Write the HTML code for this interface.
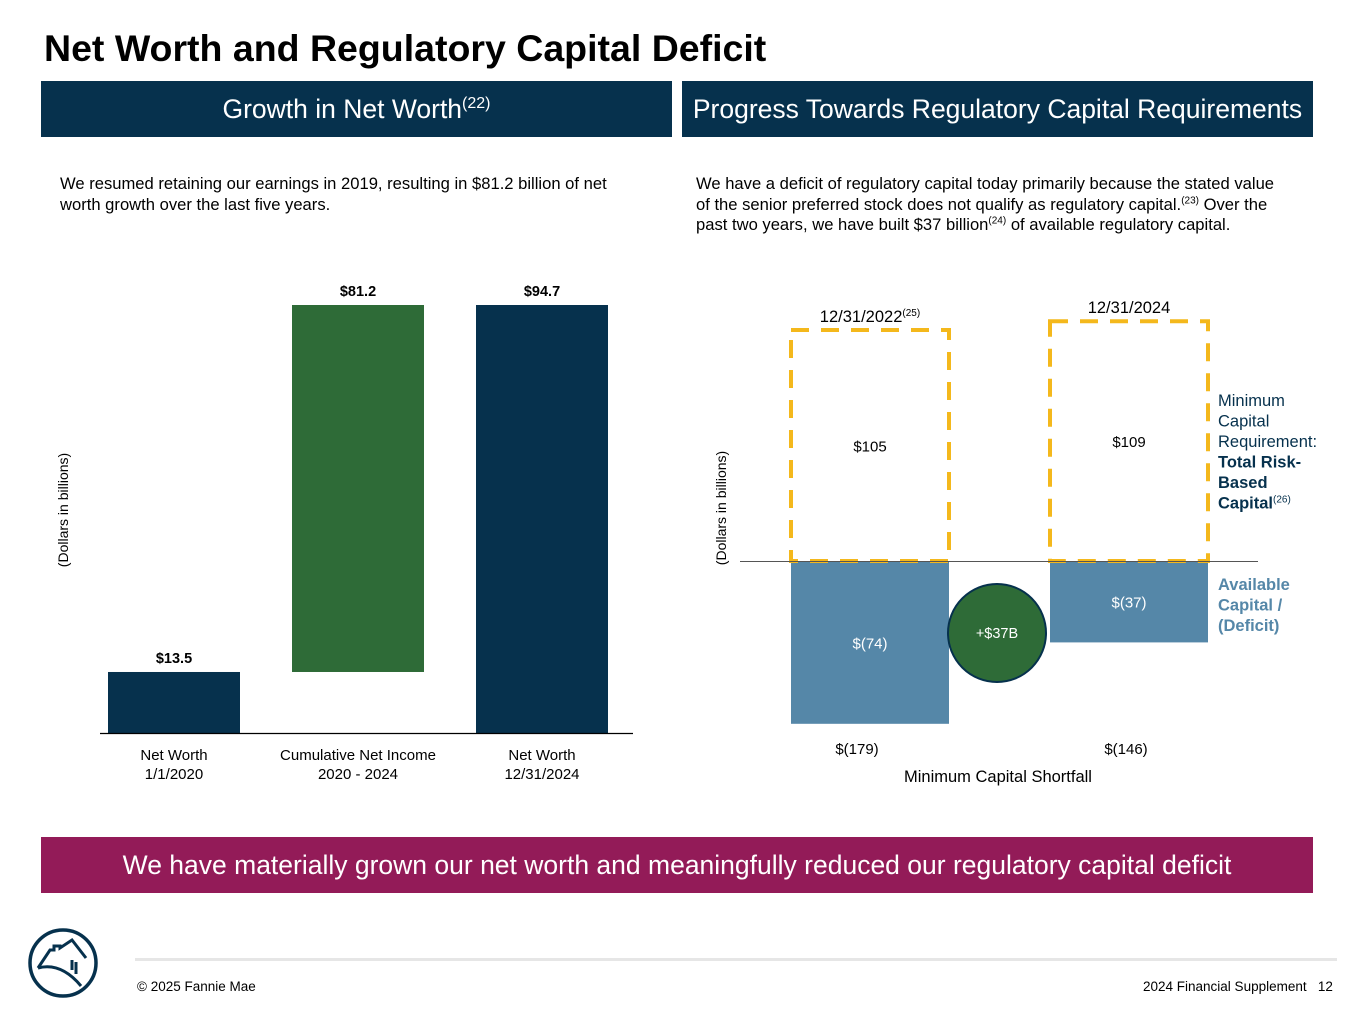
<!DOCTYPE html>
<html><head><meta charset="utf-8"><style>
body{margin:0;width:1365px;height:1024px;background:#fff;font-family:"Liberation Sans",Arial,sans-serif;position:relative;overflow:hidden}
.a{position:absolute}
sup{line-height:0;vertical-align:super}
h1{position:absolute;left:44px;top:27px;margin:0;font-size:37.5px;font-weight:bold;color:#000}
.hdr{position:absolute;top:81px;height:56px;background:#06314d;color:#fff;font-size:26.5px;line-height:56px;text-align:center}
.hdr sup{font-size:16px}
.p{font-size:16.6px;line-height:20.5px;color:#000}
.p sup{font-size:10px}
</style></head><body>
<h1>Net Worth and Regulatory Capital Deficit</h1>
<div class="hdr" style="left:41px;width:631px">Growth in Net Worth<sup>(22)</sup></div>
<div class="hdr" style="left:682px;width:631px">Progress Towards Regulatory Capital Requirements</div>
<div class="a p" style="left:60px;top:174px;width:580px">We resumed retaining our earnings in 2019, resulting in $81.2 billion of net worth growth over the last five years.</div>
<div class="a p" style="left:696px;top:174px;width:588px">We have a deficit of regulatory capital today primarily because the stated value of the senior preferred stock does not qualify as regulatory capital.<sup>(23)</sup> Over the past two years, we have built $37 billion<sup>(24)</sup> of available regulatory capital.</div>

<svg class="a" style="left:0;top:0" width="1365" height="1024">
<g id="left"></g>
<g id="right"></g>
</svg>

<div class="a" style="left:41px;top:837px;width:1272px;height:56px;background:#931b58;color:#fff;font-size:26.5px;line-height:56px;text-align:center">We have materially grown our net worth and meaningfully reduced our regulatory capital deficit</div>

<svg class="a" style="left:26px;top:926px" width="74" height="74">
<circle cx="37" cy="37" r="33" fill="none" stroke="#06314d" stroke-width="3.5"/>
<path d="M12 42 L24 24 L28 24 L28 20 L34 20 L34 22 L46 14 L60 32 M12 42 Q35 36 55 60 M46 34 L46 44 M50 36 L50 48" fill="none" stroke="#06314d" stroke-width="3"/>
</svg>
<div class="a" style="left:135px;top:958px;width:1202px;height:3px;background:#e6e6e6"></div>
<div class="a" style="left:137px;top:979px;font-size:13.5px">© 2025 Fannie Mae</div>
<div class="a" style="left:1143px;top:979px;font-size:13.5px">2024 Financial Supplement&nbsp;&nbsp; 12</div>

<script>
const NS='http://www.w3.org/2000/svg';
const lCategories=['Net Worth|1/1/2020','Cumulative Net Income|2020 - 2024','Net Worth|12/31/2024'];
const lStart=[0,13.5,0];
const lEnd=[13.5,94.7,94.7];
const lLabels=['$13.5','$81.2','$94.7'];
const lColors=['#06314d','#2e6b37','#06314d'];

const rDates=['12/31/2022','12/31/2024'];
const rRequirement=[105,109];
const rAvailable=[-74,-37];
const rShortfall=['$(179)','$(146)'];

function mk(p,tag,at,txt){const e=document.createElementNS(NS,tag);for(const k in at)e.setAttribute(k,at[k]);if(txt!=null)e.textContent=txt;p.appendChild(e);return e;}
const L=document.getElementById('left');
const ly=v=>733-v*(428/94.7);
lCategories.forEach((c,i)=>{
  const x=108+i*184;
  const r=mk(L,'rect',{x:x,y:ly(lEnd[i]),width:132,height:ly(lStart[i])-ly(lEnd[i]),fill:lColors[i]});
  
  
  const t=mk(L,'text',{x:x+66,y:ly(lEnd[i])-9,'text-anchor':'middle','font-size':14.5,'font-weight':'bold'},lLabels[i]);
  
  
  c.split('|').forEach((s,j)=>{const tt=mk(L,'text',{x:x+66,y:760+j*19,'text-anchor':'middle','font-size':15},s);
  
  });
});
mk(L,'line',{x1:100,x2:633,y1:733.5,y2:733.5,stroke:'#000','stroke-width':1.2});
mk(L,'text',{transform:'translate(68,510) rotate(-90)','text-anchor':'middle','font-size':14},'(Dollars in billions)');

const R=document.getElementById('right');
const ry=v=>561-v*2.2;
rDates.forEach((d,i)=>{
  const x=791+i*259,w=158;
  const b=mk(R,'rect',{x:x,y:ry(0),width:w,height:ry(rAvailable[i])-ry(0),fill:'#5587a8'});
  
  
  mk(R,'text',{x:x+w/2,y:(ry(0)+ry(rAvailable[i]))/2+6,'text-anchor':'middle','font-size':15,fill:'#fff'},'$('+Math.abs(rAvailable[i])+')');
  const box=mk(R,'rect',{x:x,y:ry(rRequirement[i]),width:w,height:ry(0)-ry(rRequirement[i]),fill:'none',stroke:'#f4b81c','stroke-width':4,'stroke-dasharray':'18 12'});
  
  
  mk(R,'text',{x:x+w/2,y:(ry(0)+ry(rRequirement[i]))/2+6,'text-anchor':'middle','font-size':15},'$'+rRequirement[i]);
  const dt=mk(R,'text',{x:x+w/2,y:ry(rRequirement[i])-8,'text-anchor':'middle','font-size':16.5},d);
  if(i===0){mk(dt,'tspan',{'font-size':10,dy:-6},'(25)');}
  mk(R,'text',{x:x+w/2-13+(i?10:0),y:754,'text-anchor':'middle','font-size':15},rShortfall[i]);
});
mk(R,'line',{x1:740,x2:1258,y1:561.5,y2:561.5,stroke:'#555','stroke-width':1});
mk(R,'text',{transform:'translate(726,508) rotate(-90)','text-anchor':'middle','font-size':14},'(Dollars in billions)');
const c=mk(R,'circle',{cx:997,cy:633,r:49,fill:'#2e6b37',stroke:'#06314d','stroke-width':2});


mk(R,'text',{x:997,y:638,'text-anchor':'middle','font-size':14.5,fill:'#fff'},'+$37B');
mk(R,'text',{x:998,y:782,'text-anchor':'middle','font-size':16.5},'Minimum Capital Shortfall');
[['Minimum',0],['Capital',0],['Requirement:',0],['Total Risk-',1],['Based',1],['Capital',1]].forEach((a,j)=>{
  const t=mk(R,'text',{x:1218,y:406+j*20.5,'font-size':16.5,'font-weight':a[1]?'bold':'normal',fill:'#06314d'},a[0]);
  if(j===5)mk(t,'tspan',{'font-size':10,dy:-6,'font-weight':'normal'},'(26)');
});
['Available','Capital /','(Deficit)'].forEach((s,j)=>mk(R,'text',{x:1218,y:590+j*20.5,'font-size':16.5,'font-weight':'bold',fill:'#5587a8'},s));
</script>
</body></html>
